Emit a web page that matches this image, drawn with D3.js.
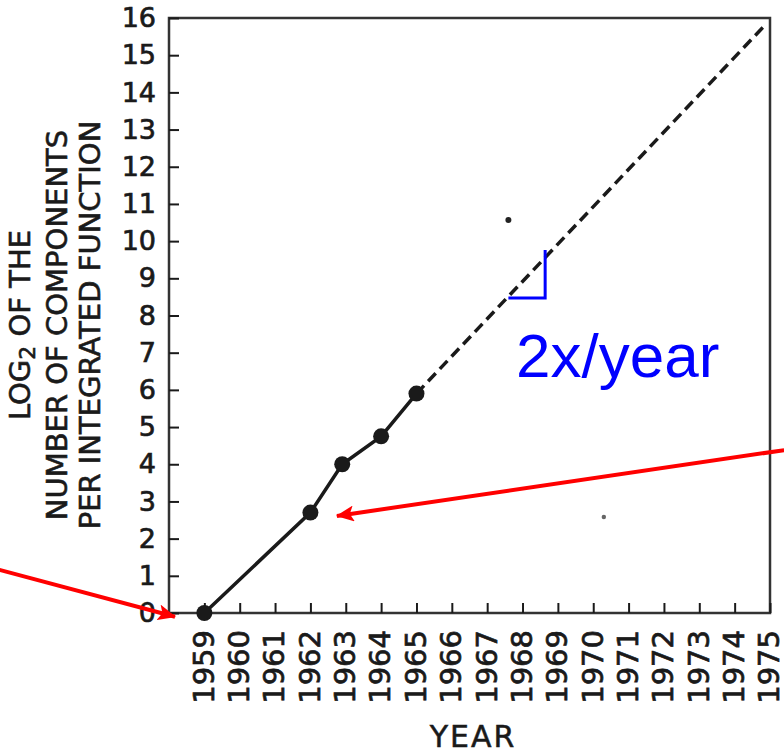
<!DOCTYPE html>
<html>
<head>
<meta charset="utf-8">
<script src="https://cdn.jsdelivr.net/npm/d3@7"></script>
<style>
  body { margin: 0; background: #fff; }
  svg { display: block; }
</style>
</head>
<body>
<svg id="chart" width="784" height="754"></svg>
<script>
// measured points (year, log2 of components)
var years = [1959, 1962, 1962.9, 1964, 1965];
var log2Counts = [0, 2.7, 4.0, 4.75, 5.9];
// extrapolation
var trendYears = [1965, 1974.8];
var trendValues = [5.9, 15.75];
// stray marks of the scan
var speckYears = [1967.6, 1970.3];
var speckValues = [10.57, 2.58];
var xTicks = d3.range(1959, 1976);
var yTicks = d3.range(0, 17);
var titleLines = ["LOG|2| OF THE", "NUMBER OF COMPONENTS", "PER INTEGRATED FUNCTION"];
// slope mark: [year, value] corners
var slopeMark = [[1967.6, 8.47], [1968.64, 8.47], [1968.64, 9.76]];
// red arrows: tail -> head, in data units
var arrows = [
    [[1953.2, 1.16], [1958.17, -0.1]],
    [[1975.4, 4.38], [1962.75, 2.61]]
];

var svg = d3.select("#chart");
var x = d3.scaleLinear().domain([1958, 1975]).range([169, 770]);
var y = d3.scaleLinear().domain([0, 16]).range([613, 18]);
var ink = "#1a1a1a";
var font = "DejaVu Sans, sans-serif";

// frame
svg.append("rect")
    .attr("x", x(1958)).attr("y", y(16))
    .attr("width", x(1975) - x(1958)).attr("height", y(0) - y(16))
    .attr("fill", "none").attr("stroke", "#333").attr("stroke-width", 2.5);

var yAxis = svg.append("g")
    .attr("transform", "translate(" + x(1958) + ",0)")
    .call(d3.axisLeft(y).tickValues(yTicks).tickSize(-10).tickPadding(13)
        .tickFormat(d3.format("d")));
yAxis.select(".domain").remove();
yAxis.selectAll(".tick line").attr("stroke", ink).attr("stroke-width", 2);
yAxis.selectAll(".tick text")
    .attr("fill", ink).attr("stroke", ink).attr("stroke-width", 0.7)
    .attr("font-family", font).attr("font-size", 27);

var xAxis = svg.append("g")
    .attr("transform", "translate(0," + y(0) + ")")
    .call(d3.axisBottom(x).tickValues(xTicks).tickSize(-10).tickFormat(d3.format("d")));
xAxis.select(".domain").remove();
xAxis.selectAll(".tick line").attr("stroke", ink).attr("stroke-width", 2);
xAxis.selectAll(".tick text")
    .attr("fill", ink).attr("stroke", ink).attr("stroke-width", 0.7)
    .attr("font-family", font).attr("font-size", 29)
    .attr("text-anchor", "end")
    .attr("x", 0).attr("y", 0).attr("dy", "0.34em")
    .attr("transform", "translate(-1,17) rotate(-90)");

svg.append("text")
    .attr("x", 473).attr("y", 747)
    .attr("text-anchor", "middle")
    .attr("font-family", font).attr("font-size", 30)
    .attr("letter-spacing", 2).attr("fill", ink)
    .attr("stroke", ink).attr("stroke-width", 0.5)
    .text("YEAR");

var titleX = [20, 57, 90];
titleLines.forEach(function(line, i) {
    var t = svg.append("text")
        .attr("transform", "translate(" + titleX[i] + ",325) rotate(-90)")
        .attr("text-anchor", "middle").attr("dy", "0.36em")
        .attr("font-family", font).attr("font-size", 29).attr("fill", ink)
        .attr("stroke", ink).attr("stroke-width", 0.6);
    line.split("|").forEach(function(part, j) {
        var s = t.append("tspan").text(part);
        if (j === 1) s.attr("font-size", 22).attr("dy", 5);
        if (j === 2) s.attr("dy", -5);
    });
});

var pts = years.map(function(d, i) { return [d, log2Counts[i]]; });
var line = d3.line().x(function(d) { return x(d[0]); }).y(function(d) { return y(d[1]); });

svg.append("path")
    .datum(trendYears.map(function(d, i) { return [d, trendValues[i]]; }))
    .attr("d", line)
    .attr("fill", "none").attr("stroke", ink)
    .attr("stroke-width", 3.5).attr("stroke-dasharray", "11,6");

svg.append("path")
    .datum(pts)
    .attr("d", line)
    .attr("fill", "none").attr("stroke", ink).attr("stroke-width", 3.5);

svg.selectAll(".pt")
    .data(pts)
  .enter()
    .append("circle")
    .attr("class", "pt")
    .attr("cx", function(d) { return x(d[0]); })
    .attr("cy", function(d) { return y(d[1]); })
    .attr("r", 8)
    .attr("fill", ink);

svg.selectAll(".speck")
    .data(speckYears)
  .enter()
    .append("circle")
    .attr("class", "speck")
    .attr("cx", function(d) { return x(d); })
    .attr("cy", function(d, i) { return y(speckValues[i]); })
    .attr("r", function(d, i) { return i === 0 ? 3 : 2.2; })
    .attr("fill", function(d, i) { return i === 0 ? "#222" : "#666"; });

// blue slope annotation
svg.append("path")
    .datum(slopeMark)
    .attr("d", line)
    .attr("fill", "none").attr("stroke", "#0000ff").attr("stroke-width", 3);

svg.append("text")
    .attr("x", 516).attr("y", 377)
    .attr("font-family", "Liberation Sans, Arial, sans-serif")
    .attr("font-size", 62).attr("fill", "#0000ff")
    .text("2x/year");

// red arrows
svg.append("defs").append("marker")
    .attr("id", "head")
    .attr("markerUnits", "userSpaceOnUse")
    .attr("viewBox", "0 0 18 16")
    .attr("refX", 17).attr("refY", 8)
    .attr("markerWidth", 18).attr("markerHeight", 16)
    .attr("orient", "auto")
  .append("path")
    .attr("d", "M0,0 L18,8 L0,16 L4,8 Z")
    .attr("fill", "#ff0000");

svg.selectAll(".arrow")
    .data(arrows)
  .enter()
    .append("path")
    .attr("class", "arrow")
    .attr("d", line)
    .attr("fill", "none").attr("stroke", "#ff0000").attr("stroke-width", 4)
    .attr("marker-end", "url(#head)");
</script>
</body>
</html>
